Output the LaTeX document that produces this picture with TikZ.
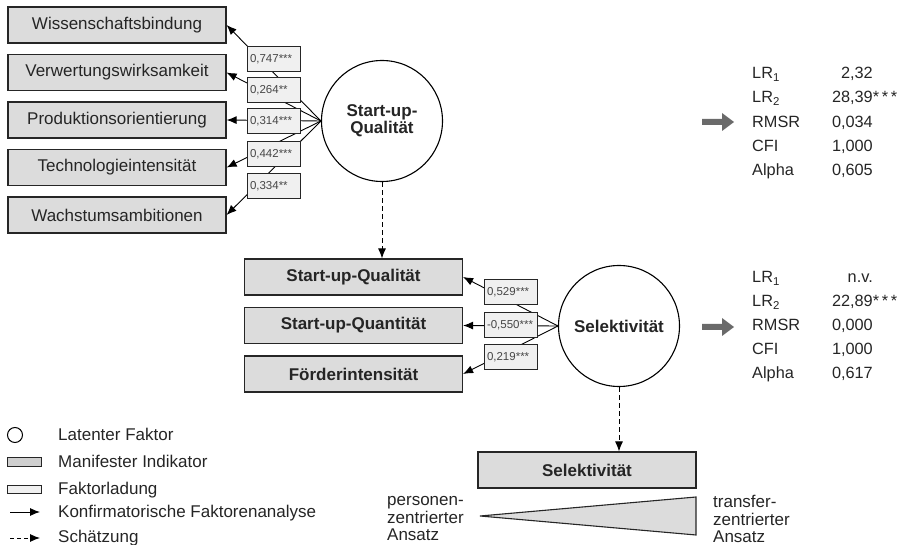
\documentclass[tikz,border=0pt]{standalone}
\usepackage{fontspec}
\setmainfont{Liberation Sans}
\usetikzlibrary{arrows.meta,calc}
\definecolor{txt}{HTML}{252525}
\definecolor{indfill}{HTML}{DCDCDC}
\definecolor{ldfill}{HTML}{F0F0F0}
\definecolor{mfill}{HTML}{CFCFCF}
\definecolor{arrgray}{HTML}{6A6A6A}
\newcommand\latfont{\fontsize{17}{17}\selectfont\bfseries\lineskiplimit-20pt\relax}
\begin{document}
\begin{tikzpicture}[x=1pt,y=-1pt,
  ind/.style={draw=black!85, line width=1.2pt, fill=indfill, minimum width=218pt, minimum height=36pt, inner sep=0pt, font=\fontsize{17}{20}\selectfont, text=txt},
  indb/.style={ind, font=\fontsize{17}{20}\selectfont\bfseries},
  lat/.style={circle, draw=black, line width=1.1pt, fill=white, minimum size=121pt, inner sep=0pt, font=\latfont, align=center, text=txt},
  load/.style={draw=black!85, line width=1pt, fill=ldfill, text width=47pt, align=left, inner xsep=3pt, inner ysep=0pt, minimum height=25pt, font=\fontsize{11.5}{13}\selectfont, text=txt!85},
  conn/.style={line width=0.9pt, -{Latex[length=10pt,width=8pt]}},
  est/.style={conn, dash pattern=on 5pt off 3pt},
  lbl/.style={font=\fontsize{17}{17.5}\selectfont, text=txt, inner sep=0pt},
  stat/.style={font=\fontsize{16.3}{18}\selectfont, text=txt, inner sep=0pt},
  gar/.style={fill=arrgray},
]
\useasboundingbox (0,0) rectangle (906,545);

% first measurement model
\node[ind] (w1) at (117,25) {Wissenschaftsbindung};
\node[ind] (w2) at (117,72.5) {Verwertungswirksamkeit};
\node[ind] (w3) at (117,120) {Produktionsorientierung};
\node[ind] (w4) at (117,167.5) {Technologieintensität};
\node[ind] (w5) at (117,215) {Wachstumsambitionen};
\node[lat] (q) at (382,121) {Start-up-\\Qualität};
\foreach \b in {w1,w2,w3,w4,w5} \draw[conn] (q.west) -- (\b.east);
\node[load] (l1) at (273.5,59.5) {0,747***};
\node[load] (l2) at (273.5,90) {0,264**};
\node[load] (l3) at (273.5,121) {0,314***};
\node[load] (l4) at (273.5,154.5) {0,442***};
\node[load] (l5) at (273.5,186) {0,334**};

% second measurement model
\node[indb] (s1) at (353.5,277) {Start-up-Qualität};
\node[indb] (s2) at (353.5,325.5) {Start-up-Quantität};
\node[indb] (s3) at (353.5,374) {Förderintensität};
\node[lat] (sel) at (619,326) {Selektivität};
\foreach \b in {s1,s2,s3} \draw[conn] (sel.west) -- (\b.east);
\node[load] (m1) at (510.5,292.5) {0,529***};
\node[load] (m2) at (510.5,325.5) {-0,550***};
\node[load] (m3) at (510.5,357) {0,219***};

\draw[est] (q.south) -- (q.south |- s1.north);

% selectivity scale
\node[indb] (sb) at (587,470) {Selektivität};
\draw[est] (sel.south) -- (sel.south |- sb.north);
\draw[draw=black!85, line width=1.1pt, fill=indfill] (480,516) -- (696,497) -- (696,535) -- cycle;
\node[lbl, anchor=west, align=left] (pz) at (387,519) {personen-\\zentrierter\\Ansatz};
\node[lbl, anchor=west, align=left] (tz) at (713,519) {transfer-\\zentrierter\\Ansatz};

% fit statistics 1
\fill[gar] (702,119) -- (722,119) -- (722,113) -- (734,122) -- (722,131) -- (722,125) -- (702,125) -- cycle;
\node[stat, anchor=base west] (a1) at (752,79) {LR\textsubscript{1}};
\node[stat, anchor=base west] (a2) at (752,103) {LR\textsubscript{2}};
\node[stat, anchor=base west] (a3) at (752,127.5) {RMSR};
\node[stat, anchor=base west] (a4) at (752,151.5) {CFI};
\node[stat, anchor=base west] (a5) at (752,176) {Alpha};
\node[stat, anchor=base east] (v1) at (873,79) {2,32};
\node[stat, anchor=base east] (v2) at (873,103) {28,39\rlap{*\,*\,*}};
\node[stat, anchor=base east] (v3) at (873,127.5) {0,034};
\node[stat, anchor=base east] (v4) at (873,151.5) {1,000};
\node[stat, anchor=base east] (v5) at (873,176) {0,605};

% fit statistics 2
\fill[gar] (702,324) -- (722,324) -- (722,318) -- (734,327) -- (722,336) -- (722,330) -- (702,330) -- cycle;
\node[stat, anchor=base west] (b1) at (752,283) {LR\textsubscript{1}};
\node[stat, anchor=base west] (b2) at (752,307) {LR\textsubscript{2}};
\node[stat, anchor=base west] (b3) at (752,331) {RMSR};
\node[stat, anchor=base west] (b4) at (752,355) {CFI};
\node[stat, anchor=base west] (b5) at (752,379) {Alpha};
\node[stat, anchor=base east] (u1) at (873,283) {n.v.};
\node[stat, anchor=base east] (u2) at (873,307) {22,89\rlap{*\,*\,*}};
\node[stat, anchor=base east] (u3) at (873,331) {0,000};
\node[stat, anchor=base east] (u4) at (873,355) {1,000};
\node[stat, anchor=base east] (u5) at (873,379) {0,617};

% legend
\node[circle, draw=black, line width=1pt, minimum size=15pt, inner sep=0pt] (lgc) at (15,435) {};
\node[draw=black!85, line width=1pt, fill=mfill, minimum width=34pt, minimum height=9pt, inner sep=0pt] (lgm) at (24,462) {};
\node[draw=black!85, line width=1pt, fill=ldfill, minimum width=34pt, minimum height=8pt, inner sep=0pt] (lgl) at (24,489.5) {};
\coordinate (la1) at (10,512); \coordinate (la2) at (40,512);
\draw[conn] (la1) -- (la2);
\coordinate (lb1) at (10,538); \coordinate (lb2) at (40,538);
\draw[conn, dash pattern=on 4pt off 3pt] (lb1) -- (lb2);
\node[lbl, anchor=base west] (t1) at (58,441) {Latenter Faktor};
\node[lbl, anchor=base west] (t2) at (58,468) {Manifester Indikator};
\node[lbl, anchor=base west] (t3) at (58,495) {Faktorladung};
\node[lbl, anchor=base west] (t4) at (58,518) {Konfirmatorische Faktorenanalyse};
\node[lbl, anchor=base west] (t5) at (58,543) {Schätzung};
\end{tikzpicture}
\end{document}
